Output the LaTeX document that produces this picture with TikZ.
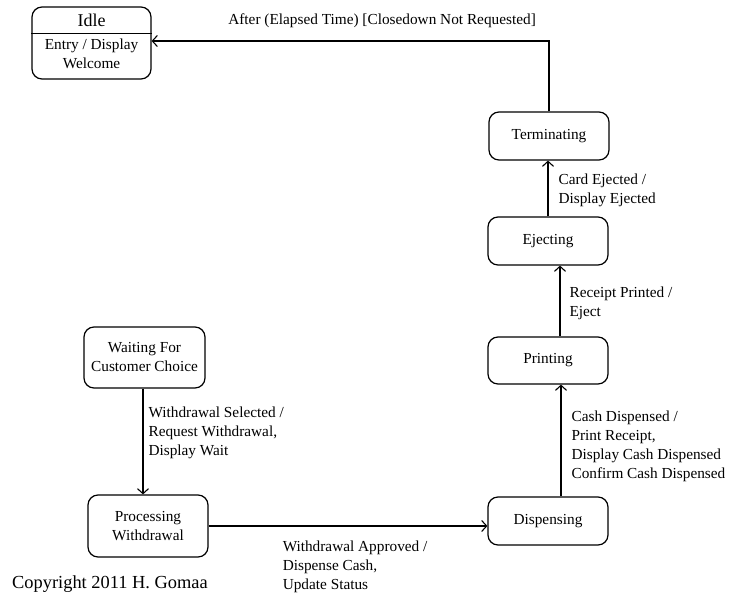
\documentclass[tikz,border=0pt]{standalone}
\usepackage{fontspec}
\setmainfont{Liberation Serif}
\usetikzlibrary{arrows.meta}

\tikzset{
  state/.style={draw, line width=1.2pt, rounded corners=10pt, minimum width=120pt,
    minimum height=48pt, align=center, inner sep=2pt,
    font=\fontsize{15.3}{19}\selectfont},
  trans/.style={draw, line width=1.1pt, -{Straight Barb[length=5pt,width=11pt,line width=1.1pt]}},
  lbl/.style={align=left, inner sep=0pt, font=\fontsize{15.3}{19}\selectfont},
}

\begin{document}
\begin{tikzpicture}[x=1pt, y=1pt]
  \useasboundingbox (0,0) rectangle (732,-603);

  % Idle state with its entry action compartment
  \node[state, minimum width=119pt, minimum height=72pt] (idle) at (91.5,-43) {};
  \draw[line width=1.6pt] ([yshift=-27pt]idle.north west) -- ([yshift=-27pt]idle.north east);
  \node[font=\fontsize{18}{20}\selectfont, inner sep=0pt] (idlename) at (91.5,-20.5) {Idle};
  \node[lbl, align=center] (idleentry) at (91.5,-54) {Entry / Display\\Welcome};

  % Other states
  \node[state] (term)  at (549,-136) {Terminating};
  \node[state] (eject) at (548,-241) {Ejecting};
  \node[state, minimum height=47pt] (print) at (548,-360.5) {Printing};
  \node[state] (disp)  at (548,-521) {Dispensing};
  \node[state, minimum width=121pt, minimum height=61pt] (wait) at (144.5,-357.5) {Waiting For\\Customer Choice};
  \node[state, minimum height=62pt] (proc) at (148,-526) {Processing\\Withdrawal};

  % Transitions
  \draw[trans] ([xshift=-1.5pt]wait.south) -- ([xshift=-1.5pt]wait.south |- proc.north)
    node[lbl, pos=0.42, anchor=west, xshift=5pt] {Withdrawal Selected /\\Request Withdrawal,\\Display Wait};

  \draw[trans] (proc.east) -- (proc.east -| disp.west)
    node[lbl, pos=0.264, anchor=north west, yshift=-14pt] {Withdrawal Approved /\\Dispense Cash,\\Update Status};

  \draw[trans] ([xshift=13pt]disp.north) -- ([xshift=13pt]print.south)
    node[lbl, midway, anchor=west, xshift=10pt, yshift=-6pt] {Cash Dispensed /\\Print Receipt,\\Display Cash Dispensed\\Confirm Cash Dispensed};

  \draw[trans] ([xshift=12pt]print.north) -- ([xshift=12pt]eject.south)
    node[lbl, midway, anchor=west, xshift=9pt, yshift=-2pt] {Receipt Printed /\\Eject};

  \draw[trans] (eject.north) -- (eject.north |- term.south)
    node[lbl, midway, anchor=west, xshift=10pt, yshift=-2pt] {Card Ejected /\\Display Ejected};

  \draw[trans] (term.north) |- ([yshift=2pt]idle.east)
    node[lbl, pos=0.71, anchor=south, yshift=13pt] {After (Elapsed Time) [Closedown Not Requested]};

  % Footer
  \node[font=\fontsize{18.4}{20}\selectfont, anchor=west, inner sep=0pt] (copy) at (12,-584) {Copyright 2011 H. Gomaa};
\end{tikzpicture}
\end{document}
